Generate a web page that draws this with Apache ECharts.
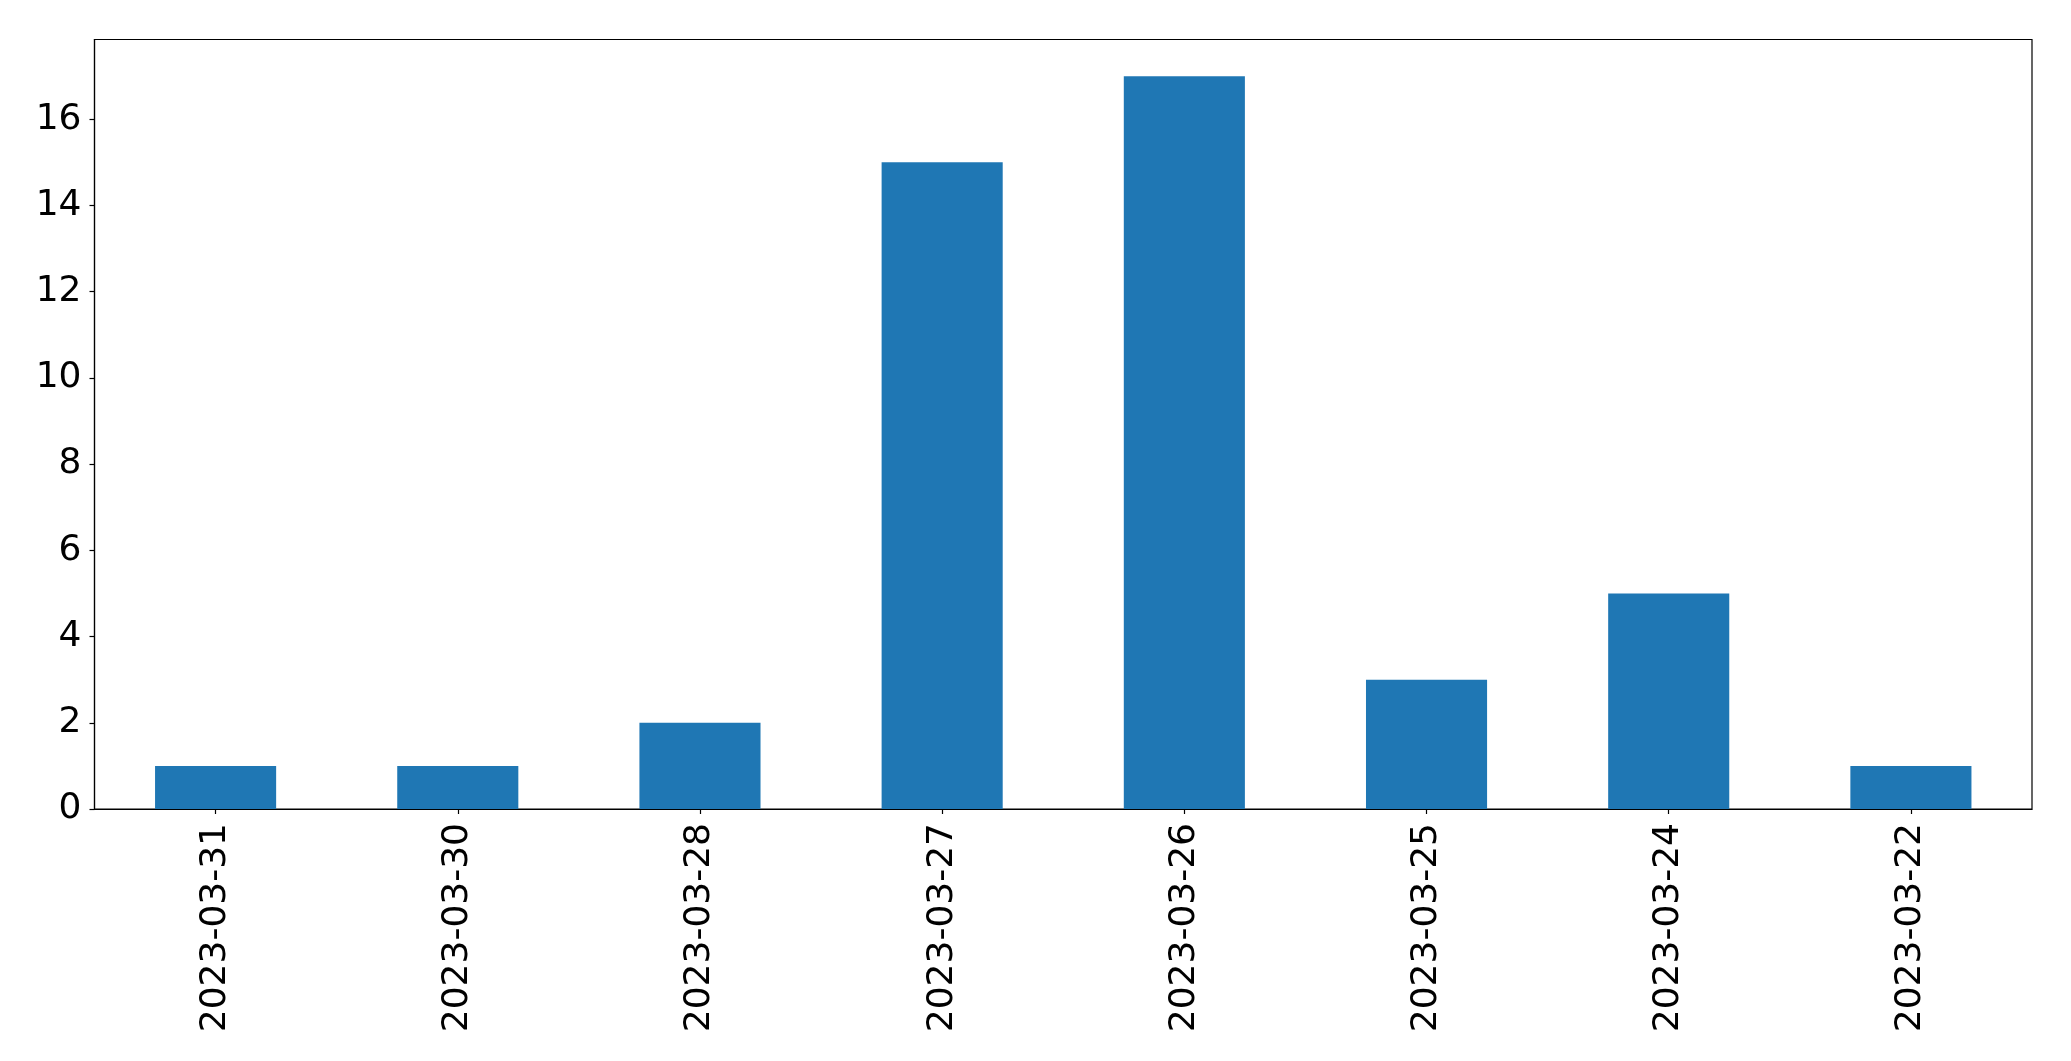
<!DOCTYPE html>
<html>
<head>
<meta charset="utf-8">
<script src="https://cdn.jsdelivr.net/npm/echarts@6/dist/echarts.min.js"></script>
<style>
html,body{margin:0;padding:0;background:#fff;}
#chart{width:2071px;height:1061px;}
</style>
</head>
<body>
<div id="chart"></div>
<script>
const categories = ['2023-03-31','2023-03-30','2023-03-28','2023-03-27','2023-03-26','2023-03-25','2023-03-24','2023-03-22'];
const counts = [1, 1, 2, 15, 17, 3, 5, 1];
const yTicks = [0, 2, 4, 6, 8, 10, 12, 14, 16];

const chart = echarts.init(document.getElementById('chart'), null, {renderer: 'canvas'});
const font = 'DejaVu Sans';
chart.setOption({
  animation: false,
  backgroundColor: '#ffffff',
  grid: {left: 94.5, right: 39, top: 39.5, bottom: 252, show: true, borderColor: '#000', borderWidth: 1.2, backgroundColor: 'transparent'},
  xAxis: {
    type: 'category',
    data: categories,
    boundaryGap: true,
    axisLine: {show: true, lineStyle: {color: '#000', width: 1.2}},
    axisTick: {show: true, alignWithLabel: true, length: 5, lineStyle: {color: '#000', width: 1.2}},
    axisLabel: {rotate: 90, margin: 14, fontFamily: font, fontSize: 36, color: '#000', interval: 0}
  },
  yAxis: {
    type: 'value',
    min: 0,
    max: 17.85,
    interval: 2,
    splitLine: {show: false},
    axisLine: {show: true, lineStyle: {color: '#000', width: 1.2}},
    axisTick: {show: true, length: 5, lineStyle: {color: '#000', width: 1.2}},
    axisLabel: {
      margin: 13, fontFamily: font, fontSize: 36, color: '#000', showMaxLabel: false,
      formatter: v => yTicks.includes(v) ? String(v) : ''
    }
  },
  series: [{
    type: 'bar',
    data: counts,
    barWidth: '50%',
    itemStyle: {color: '#1f77b4'}
  }]
});
</script>
</body>
</html>
